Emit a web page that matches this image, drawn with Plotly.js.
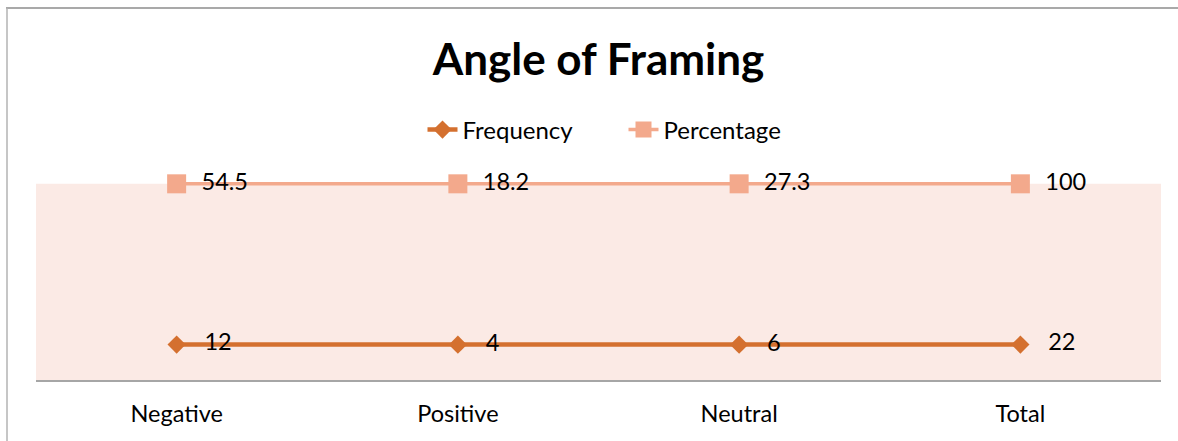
<!DOCTYPE html>
<html>
<head>
<meta charset="utf-8">
<script src="https://cdn.plot.ly/plotly-3.0.1.min.js"></script>
<style>
  html, body { margin: 0; padding: 0; background: #ffffff; }
  #chart { width: 1178px; height: 441px; }
</style>
</head>
<body>
<div id="chart"></div>
<script>
// ---- Data ----
const categories = ["Negative", "Positive", "Neutral", "Total"];
const frequency = [12, 4, 6, 22];
const percentage = [54.5, 18.2, 27.3, 100];
const seriesNames = ["Frequency", "Percentage"];
const chartTitle = "Angle of Framing";

// ---- Style ----
const FONT = "Lato, 'Open Sans', sans-serif";
const freqColor = "#D4702F";
const pctColor = "#F3A98C";

const traces = [
  {
    x: categories,
    y: frequency,
    name: seriesNames[0],
    type: "scatter",
    mode: "lines+markers+text",
    stackgroup: "one",
    groupnorm: "percent",
    fill: "none",
    cliponaxis: false,
    line: { color: freqColor, width: 4.5 },
    marker: { symbol: "diamond", size: 14, color: freqColor },
    text: frequency.map(v => "\u00a0\u00a0\u00a0" + v),
    textposition: "middle right",
    textfont: { family: FONT, size: 23.5, color: "#000000" },
    hoverinfo: "skip"
  },
  {
    x: categories,
    y: percentage,
    name: seriesNames[1],
    type: "scatter",
    mode: "lines+markers+text",
    stackgroup: "one",
    fill: "none",
    cliponaxis: false,
    line: { color: pctColor, width: 3.5 },
    marker: { symbol: "square", size: 19, color: pctColor },
    text: percentage.map(v => "\u00a0\u00a0" + v),
    textposition: "middle right",
    textfont: { family: FONT, size: 23.5, color: "#000000" },
    hoverinfo: "skip"
  }
];

const L = 36, R = 17, T = 174, B = 61, W = 1178, H = 441;
const pw = W - L - R, ph = H - T - B;
const px = v => (v - L) / pw;
const py = v => (H - B - v) / ph;

const layout = {
  width: W,
  height: H,
  margin: { l: L, r: R, t: T, b: B, pad: 0 },
  paper_bgcolor: "#ffffff",
  plot_bgcolor: "rgba(0,0,0,0)",
  font: { family: FONT, color: "#000000" },
  title: {
    text: "<b>" + chartTitle + "</b>",
    font: { family: FONT, size: 44, color: "#000000" },
    x: 0.5, xanchor: "center",
    y: 1 - 60 / H, yanchor: "middle",
    xref: "paper", yref: "container"
  },
  showlegend: true,
  legend: {
    orientation: "h",
    x: 0.5 + 25 / pw, xanchor: "center",
    y: py(130), yanchor: "middle",
    xref: "paper", yref: "paper",
    font: { family: FONT, size: 24, color: "#000000" },
    bgcolor: "rgba(0,0,0,0)",
    entrywidth: 156,
    traceorder: "normal"
  },
  xaxis: {
    type: "category",
    range: [-0.5, 3.5],
    showgrid: false,
    zeroline: false,
    showline: true,
    linecolor: "#A6A6A6",
    linewidth: 1.5,
    ticks: "",
    tickfont: { family: FONT, size: 23.5, color: "#000000" },
    ticklabelstandoff: 12,
    fixedrange: true
  },
  yaxis: {
    range: [0, 105],
    showgrid: false,
    zeroline: false,
    showline: false,
    showticklabels: false,
    ticks: "",
    fixedrange: true
  },
  shapes: [
    { type: "rect", xref: "paper", yref: "y", layer: "below",
      x0: 0, x1: 1, y0: 0, y1: 100,
      fillcolor: "#FBEAE5", line: { width: 0 } },
    { type: "line", xref: "paper", yref: "paper",
      x0: px(6), x1: px(1178), y0: py(8), y1: py(8),
      line: { color: "#8C8C8C", width: 1.5 } },
    { type: "line", xref: "paper", yref: "paper",
      x0: px(7), x1: px(7), y0: py(8), y1: py(441),
      line: { color: "#B3B3B3", width: 1.5 } }
  ]
};

Plotly.newPlot("chart", traces, layout, { displayModeBar: false, staticPlot: true });
</script>
</body>
</html>
